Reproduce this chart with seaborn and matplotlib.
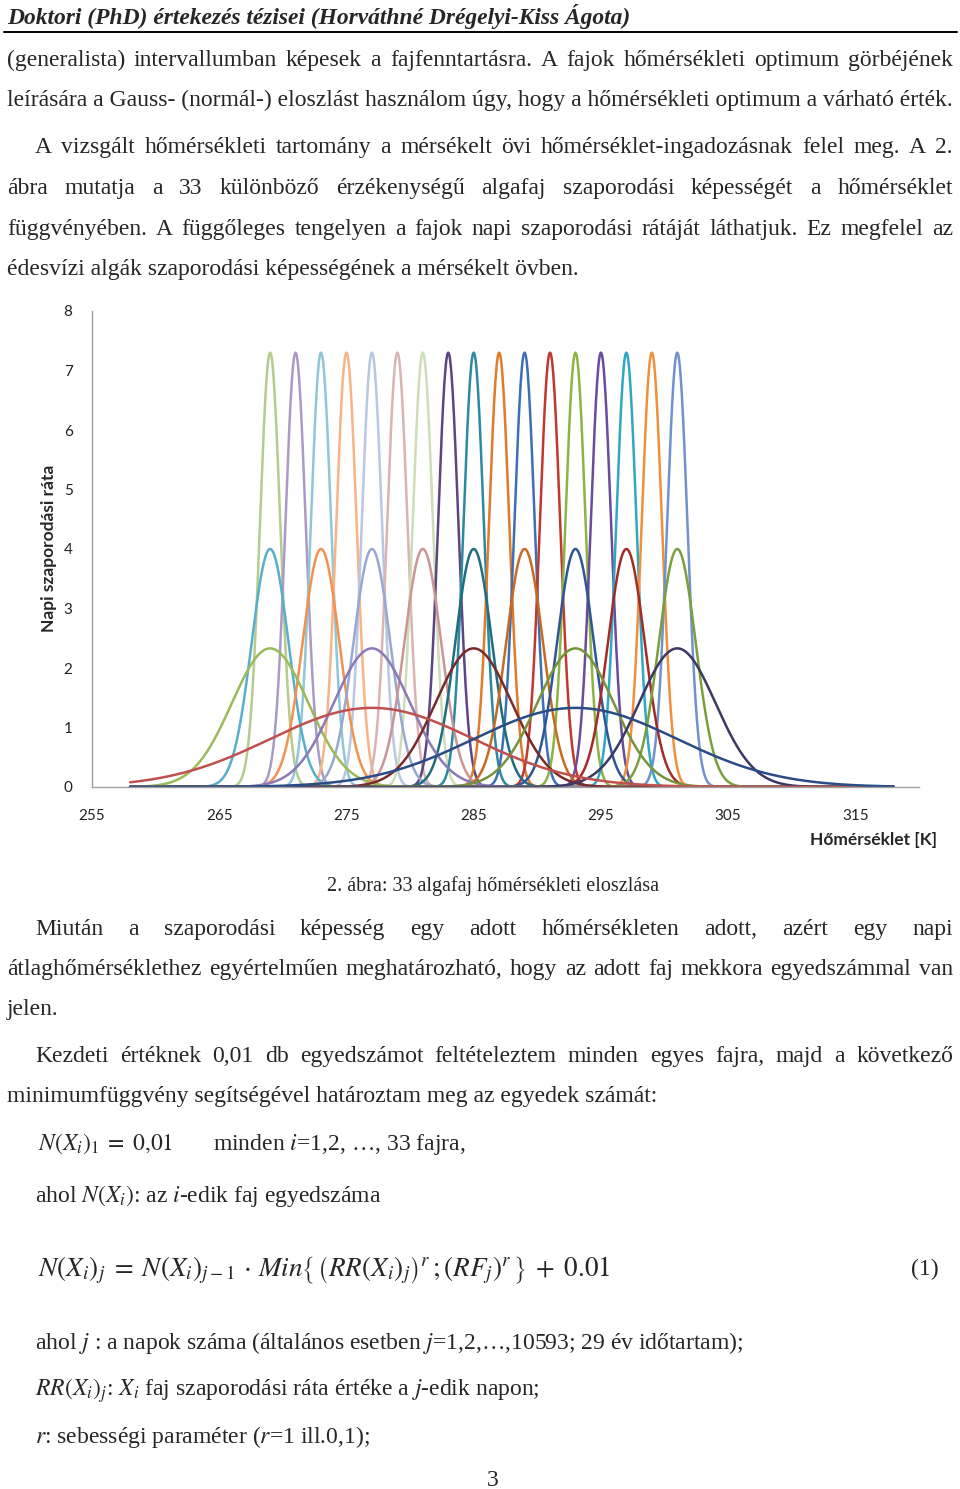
import numpy as np
import pandas as pd
import matplotlib
matplotlib.use('Agg')
import matplotlib.pyplot as plt
from matplotlib.lines import Line2D
import seaborn as sns

W, H = 960, 1489

# 33 algafaj: optimum hőmérséklet [K], csúcsérték, szélesség (szórás)
narrow_opt = [269, 271, 273, 275, 277, 279, 281, 283, 285, 287, 289, 291, 293, 295, 297, 299, 301]
medium_opt = [269, 273, 277, 281, 285, 289, 293, 297, 301]
wide_opt = [269, 277, 285, 293, 301]
widest_opt = [277, 293]

narrow_peak, medium_peak, wide_peak, widest_peak = 7.3, 4.0, 2.33, 1.33
narrow_sd, medium_sd, wide_sd, widest_sd = 0.8, 1.45, 3.0, 8.0

narrow_colors = ['#B5CC8E', '#A99BC5', '#8FC7D9', '#F7B487', '#B8C7E2', '#D9B4B3', '#CDDDB8',
                 '#5B4585', '#2C8AA0', '#E07B2A', '#3D6FB6', '#C0392F', '#8DB344', '#6A4C9C',
                 '#2FA8C4', '#F0903A', '#7192CC']
medium_colors = ['#58AFCB', '#F39250', '#98A8D0', '#CC9595', '#1E6E80', '#C96A22', '#2F5597',
                 '#A52A2A', '#7AA03D']
wide_colors = ['#9BBB59', '#8A7AB5', '#7A2A2A', '#77933C', '#3C3866']
widest_colors = ['#C0504D', '#2A4C86']

temp_grid = np.linspace(258, 318, 1201)

rows = []
palette = {}
order = []
groups = [(narrow_opt, narrow_peak, narrow_sd, narrow_colors),
          (medium_opt, medium_peak, medium_sd, medium_colors),
          (wide_opt, wide_peak, wide_sd, wide_colors),
          (widest_opt, widest_peak, widest_sd, widest_colors)]
k = 0
for opts, peak, sd, cols in groups:
    for t0, c in zip(opts, cols):
        k += 1
        name = f'faj {k}'
        rate = peak * np.exp(-(temp_grid - t0) ** 2 / (2 * sd ** 2))
        rows.append(pd.DataFrame({'T': temp_grid, 'rate': rate, 'faj': name}))
        palette[name] = c
        order.append(name)
df = pd.concat(rows, ignore_index=True)

sns.set_theme(style='white')
serif = ['Liberation Serif', 'DejaVu Serif']
plt.rcParams['font.family'] = serif
plt.rcParams['mathtext.fontset'] = 'stix'

fig = plt.figure(figsize=(9.6, 14.89), dpi=100)
renderer = fig.canvas.get_renderer()

# ---------- chart ----------
ax = fig.add_axes([92 / W, 1 - 787 / H, (919 - 92) / W, (787 - 311) / H])
sns.lineplot(data=df, x='T', y='rate', hue='faj', hue_order=order, palette=palette,
             legend=False, estimator=None, linewidth=1.8, ax=ax)
ax.set_xlim(255, 320)
ax.set_ylim(0, 8)
ax.set_xticks(range(255, 316, 10))
ax.set_yticks(range(0, 9))
for s in ['top', 'right']:
    ax.spines[s].set_visible(False)
for s in ['left', 'bottom']:
    ax.spines[s].set_color('#A0A0A0')
    ax.spines[s].set_linewidth(1.0)
ax.tick_params(axis='both', direction='out', length=5, width=1, color='#A0A0A0',
               labelsize=11, labelcolor='#222222')
ax.tick_params(axis='x', pad=11)
ax.tick_params(axis='y', pad=9)
for lab in ax.get_xticklabels() + ax.get_yticklabels():
    lab.set_family(['Lato', 'DejaVu Sans'])
ax.set_xlabel('')
ax.set_ylabel('')
ax.set_facecolor('white')

fig.text(49 / W, 1 - 548 / H, 'Napi szaporodási ráta', rotation=90, ha='center', va='center',
         fontsize=12.5, fontweight='bold', family=['Lato', 'DejaVu Sans'])
fig.text(874 / W, 1 - 840 / H, 'Hőmérséklet [K]', ha='center', va='center',
         fontsize=12.5, fontweight='bold', family=['Lato', 'DejaVu Sans'])

# ---------- page text ----------
def width_of(s, size, **kw):
    t = fig.text(0, 0, s, fontsize=size, **kw)
    w = t.get_window_extent(renderer).width
    t.remove()
    return w


def put(x, y, s, size, **kw):
    return fig.text(x / W, 1 - y / H, s, fontsize=size, va='baseline', **kw)


def justify(x0, x1, y, line, size):
    words = line.split(' ')
    widths = [width_of(w, size) for w in words]
    gap = (x1 - x0 - sum(widths)) / (len(words) - 1)
    x = x0
    for w, wd in zip(words, widths):
        put(x, y, w, size)
        x += wd + gap


line2 = 'leírására a Gauss- (normál-) eloszlást használom úgy, hogy a hőmérsékleti optimum a várható érték.'
body = 10 * 946 / width_of(line2, 10)

header = 'Doktori (PhD) értekezés tézisei (Horváthné Drégelyi-Kiss Ágota)'
head_size = 10 * 624 / width_of(header, 10, fontweight='bold', fontstyle='italic')
put(7, 24, header, head_size, fontweight='bold', fontstyle='italic')
fig.add_artist(Line2D([4 / W, 957 / W], [1 - 31.5 / H, 1 - 31.5 / H], color='black', lw=1.4,
                      transform=fig.transFigure))

L, R = 7, 953
justify(L, R, 66, '(generalista) intervallumban képesek a fajfenntartásra. A fajok hőmérsékleti optimum görbéjének', body)
put(L, 106, line2, body)
justify(35, R, 153, 'A vizsgált hőmérsékleti tartomány a mérsékelt övi hőmérséklet-ingadozásnak felel meg. A 2.', body)
justify(L, R, 194, 'ábra mutatja a 33 különböző érzékenységű algafaj szaporodási képességét a hőmérséklet', body)
justify(L, R, 235, 'függvényében. A függőleges tengelyen a fajok napi szaporodási rátáját láthatjuk. Ez megfelel az', body)
put(L, 275, 'édesvízi algák szaporodási képességének a mérsékelt övben.', body)

caption = '2. ábra: 33 algafaj hőmérsékleti eloszlása'
cap_size = 10 * 333 / width_of(caption, 10)
fig.text(493 / W, 1 - 891 / H, caption, fontsize=cap_size, ha='center', va='baseline')

justify(35, R, 935, 'Miután a szaporodási képesség egy adott hőmérsékleten adott, azért egy napi', body)
justify(L, R, 975, 'átlaghőmérséklethez egyértelműen meghatározható, hogy az adott faj mekkora egyedszámmal van', body)
put(L, 1015, 'jelen.', body)
justify(35, R, 1062, 'Kezdeti értéknek 0,01 db egyedszámot feltételeztem minden egyes fajra, majd a következő', body)
put(L, 1102, 'minimumfüggvény segítségével határoztam meg az egyedek számát:', body)

put(38, 1150, r'$N\left(X_{i}\right)_{1}\;=\;0{,}01$', body)
put(213, 1150, r'minden $i$=1,2, …, 33 fajra,', body)
put(35, 1202, r'ahol $N(X_{i})$: az $i$-edik faj egyedszáma', body)

put(38, 1276, r'$N\left(X_{i}\right)_{j}\;=\;N\left(X_{i}\right)_{j-1}\,\cdot\,Min\left\{\,\left(RR\left(X_{i}\right)_{j}\right)^{r}\,;\left(RF_{j}\right)^{r}\,\right\}\;+\;0.01$',
    body * 1.15)
put(911, 1275, '(1)', body)

put(35, 1349, r'ahol $j$ : a napok száma (általános esetben $j$=1,2,…,10593; 29 év időtartam);', body)
put(35, 1396, r'$RR(X_{i})_{j}$: $X_{i}$ faj szaporodási ráta értéke a $j$-edik napon;', body)
put(35, 1443, r'$r$: sebességi paraméter ($r$=1 ill.0,1);', body)
fig.text(493 / W, 1 - 1486 / H, '3', fontsize=body, ha='center', va='baseline')

fig.savefig('out.png', dpi=100, facecolor='white')
